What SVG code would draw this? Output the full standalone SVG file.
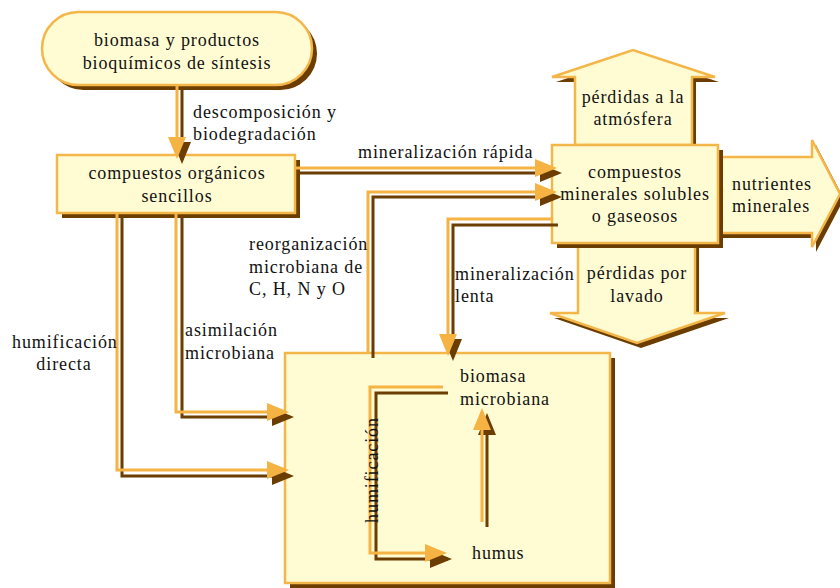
<svg xmlns="http://www.w3.org/2000/svg" width="840" height="588" viewBox="0 0 840 588">
<defs>
<style>
.bg{fill:#ffffff}
.shape{fill:#fffbd3;stroke:#f5b649;stroke-width:2.5}
.shadow{fill:#6b3d00}
.t{font-family:"Liberation Serif","Times New Roman",serif;font-size:18px;fill:#111;letter-spacing:0.9px}
.c{text-anchor:middle}
.lo{fill:none;stroke:#f5b344;stroke-width:3}
.lb{fill:none;stroke:#6b3d00;stroke-width:3}
</style>
<marker id="ao" markerUnits="userSpaceOnUse" markerWidth="22" markerHeight="18" refX="18" refY="9" orient="auto"><path d="M0,0 L22,9 L0,18 z" fill="#f5b344"/></marker>
<marker id="ab" markerUnits="userSpaceOnUse" markerWidth="22" markerHeight="18" refX="18" refY="9" orient="auto"><path d="M0,0 L22,9 L0,18 z" fill="#6b3d00"/></marker>
</defs>
<rect class="bg" x="0" y="0" width="840" height="588"/>

<g id="n-biomasa">
<rect class="shadow" x="47" y="17" width="270" height="73" rx="36.5"/>
<rect class="shape" x="42" y="12" width="270" height="73" rx="36.5"/>
<text class="t c" x="177" y="46">biomasa y productos</text>
<text class="t c" x="177" y="69">bioquímicos de síntesis</text>
</g>

<g id="n-organicos">
<rect class="shadow" x="62" y="160" width="238" height="58"/>
<rect class="shape" x="57" y="155" width="238" height="58"/>
<text class="t c" x="177" y="179">compuestos orgánicos</text>
<text class="t c" x="177" y="202">sencillos</text>
</g>

<g id="n-atmosfera">
<polygon class="shadow" points="579,150 579,82 556,82 637,55 719,82 696,82 696,150"/>
<polygon class="shape" points="575,145 575,77 552,77 633,50 715,77 692,77 692,145"/>
<text class="t c" x="633" y="103">pérdidas a la</text>
<text class="t c" x="633" y="125">atmósfera</text>
</g>

<g id="n-lavado">
<polygon class="shadow" points="582,248 699,248 699,318 729,318 641,348 554,318 582,318"/>
<polygon class="shape" points="578,243 695,243 695,313 725,313 637,343 550,313 578,313"/>
<text class="t c" x="637" y="279">pérdidas por</text>
<text class="t c" x="637" y="302">lavado</text>
</g>

<g id="n-nutrientes">
<polygon class="shadow" points="722,162 816,162 816,145 844,199 816,252 816,238 722,238"/>
<polygon class="shape" points="718,157 812,157 812,140 840,194 812,247 812,233 718,233"/>
<text class="t" x="732" y="190">nutrientes</text>
<text class="t" x="732" y="212">minerales</text>
</g>

<g id="n-minerales">
<rect class="shadow" x="557" y="150" width="166" height="98"/>
<rect class="shape" x="552" y="145" width="166" height="98"/>
<text class="t c" x="635" y="178">compuestos</text>
<text class="t c" x="635" y="200">minerales solubles</text>
<text class="t c" x="635" y="222">o gaseosos</text>
</g>

<g id="n-microbios">
<rect class="shadow" x="290" y="358" width="325" height="230"/>
<rect class="shape" x="285" y="353" width="325" height="230"/>
<text class="t" x="460" y="382">biomasa</text>
<text class="t" x="460" y="405">microbiana</text>
<text class="t" x="472" y="559">humus</text>
</g>

<g id="connectors">
<path class="lb" d="M182,90 V160" marker-end="url(#ab)"/>
<path class="lo" d="M177,85 V155" marker-end="url(#ao)"/>
<path class="lb" d="M300,173 H558" marker-end="url(#ab)"/>
<path class="lo" d="M295,168 H553" marker-end="url(#ao)"/>
<path class="lb" d="M373,358 V197 H558" marker-end="url(#ab)"/>
<path class="lo" d="M368,353 V192 H553" marker-end="url(#ao)"/>
<path class="lb" d="M558,225 H453 V357" marker-end="url(#ab)"/>
<path class="lo" d="M552,219 H448 V352" marker-end="url(#ao)"/>
<path class="lb" d="M122,218 V476 H290" marker-end="url(#ab)"/>
<path class="lo" d="M117,213 V470 H285" marker-end="url(#ao)"/>
<path class="lb" d="M182,218 V417 H290" marker-end="url(#ab)"/>
<path class="lo" d="M176,213 V412 H285" marker-end="url(#ao)"/>
<path class="lb" d="M448,393 H376 V559 H448" marker-end="url(#ab)"/>
<path class="lo" d="M443,387 H370 V553 H443" marker-end="url(#ao)"/>
<path class="lb" d="M487,527 V417" marker-end="url(#ab)"/>
<path class="lo" d="M482,522 V412" marker-end="url(#ao)"/>
</g>

<g id="labels">
<text class="t" x="193" y="118">descomposición y</text>
<text class="t" x="193" y="140">biodegradación</text>
<text class="t" x="358" y="158">mineralización rápida</text>
<text class="t" x="249" y="250">reorganización</text>
<text class="t" x="249" y="273">microbiana de</text>
<text class="t" x="249" y="295">C, H, N y O</text>
<text class="t" x="455" y="280">mineralización</text>
<text class="t" x="455" y="302">lenta</text>
<text class="t" x="12" y="348">humificación</text>
<text class="t c" x="64" y="370">directa</text>
<text class="t" x="185" y="336">asimilación</text>
<text class="t" x="185" y="359">microbiana</text>
<text class="t c" x="378" y="470" transform="rotate(-90 378 470)">humificación</text>
</g>
</svg>
